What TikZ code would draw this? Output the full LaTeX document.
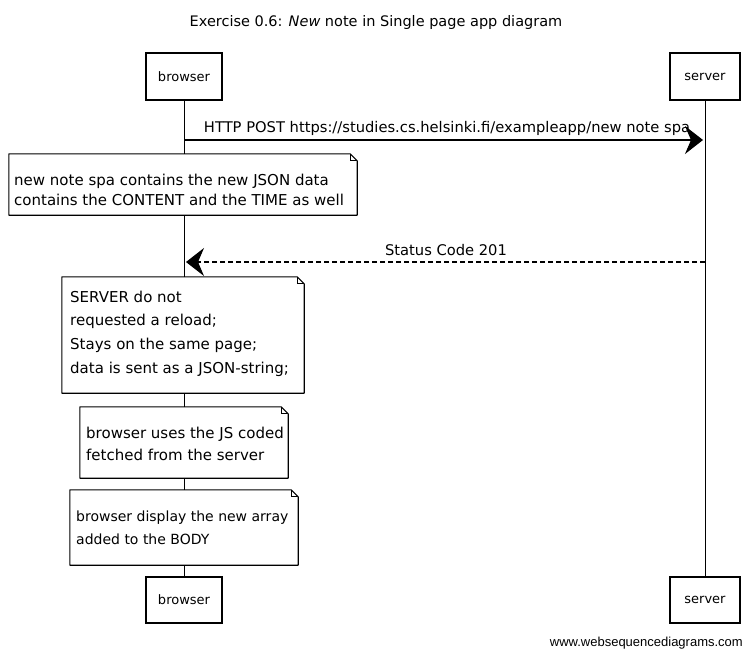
\documentclass[tikz,border=0pt]{standalone}
\usepackage{fontspec}
\setmainfont{DejaVu Sans}
\newfontfamily\wmfont{Liberation Sans}
\usetikzlibrary{arrows.meta}
\tikzset{
  x=1pt, y=-1pt,
  actor/.style={draw=black, line width=1.2pt, fill=white, minimum height=47pt, font=\fontsize{13}{15}\selectfont, inner sep=0pt},
  notebox/.style={fill=white, inner sep=0pt, anchor=center},
  notetext/.style={align=left, inner sep=0pt, anchor=west},
  noteline/.style={draw=black, line width=1.1pt, line join=round},
  life/.style={draw=black, line width=0.8pt},
  msg/.style={draw=black, line width=1.1pt, -{Stealth[length=18pt,width=28pt,inset=6pt]}},
  reply/.style={msg, dashed, dash pattern=on 5pt off 3pt},
  lbl/.style={font=\fontsize{14.7}{16}\selectfont, inner sep=0pt},
}
\newcommand{\notedraw}[1]{%
  \path[noteline] (#1.north west) -- ([xshift=-7pt]#1.north east) -- ([yshift=-7pt]#1.north east) -- (#1.south east) -- (#1.south west) -- cycle;
  \path[draw=black, line width=0.7pt] ([xshift=-7pt]#1.north east) -- ([xshift=-7pt,yshift=-7pt]#1.north east) -- ([yshift=-7pt]#1.north east);
}
\begin{document}
\begin{tikzpicture}
\useasboundingbox (0,0) rectangle (752,659);
\fill[white] (0,0) rectangle (752,659);

% title
\node[font=\fontsize{14.5}{16}\selectfont, inner sep=0pt] (title) at (376,22) {Exercise 0.6: \textit{New} note in Single page app diagram};

% participants
\node[actor, minimum width=76pt] (bt) at (184,76.5) {browser};
\node[actor, minimum width=70pt] (st) at (705,76.5) {server};
\node[actor, minimum width=76pt, minimum height=46pt] (bb) at (184,600) {browser};
\node[actor, minimum width=70pt, minimum height=46pt] (sb) at (705,600) {server};

% lifelines
\draw[life] (bt.south) -- (bb.north);
\draw[life] (st.south) -- (sb.north);

% message 1
\coordinate (m1a) at (184,140);
\coordinate (m1b) at (703,140);
\draw[msg] (m1a) -- (m1b);
\node[lbl] (m1l) at (447,128) {HTTP POST https://studies.cs.helsinki.fi/exampleapp/new note spa};

% note 1
\node[notebox, minimum width=348pt, minimum height=61pt] (n1) at (183,184.5) {};
\notedraw{n1}
\node[notetext, font=\fontsize{15}{20}\selectfont] (n1t) at (14,190) {new note spa contains the new JSON data\\contains the CONTENT and the TIME as well};

% message 2
\coordinate (m2a) at (705,262);
\coordinate (m2b) at (186,262);
\draw[reply] (m2a) -- (m2b);
\node[lbl] (m2l) at (446,250) {Status Code 201};

% note 2
\node[notebox, minimum width=242pt, minimum height=116pt] (n2) at (183,335) {};
\notedraw{n2}
\node[notetext, font=\fontsize{15}{23.6}\selectfont] (n2t) at (70,333.5) {SERVER do not\\requested a reload;\\Stays on the same page;\\data is sent as a JSON-string;};

% note 3
\node[notebox, minimum width=208pt, minimum height=71pt] (n3) at (184,442.5) {};
\notedraw{n3}
\node[notetext, font=\fontsize{15}{22}\selectfont] (n3t) at (86,444) {browser uses the JS coded\\fetched from the server};

% note 4
\node[notebox, minimum width=228pt, minimum height=75pt] (n4) at (184,527.5) {};
\notedraw{n4}
\node[notetext, font=\fontsize{14}{23}\selectfont] (n4t) at (76,527.5) {browser display the new array\\added to the BODY};

% watermark
\node[font=\wmfont\fontsize{13}{15}\selectfont, anchor=east, inner sep=0pt] (wm) at (743,643) {www.websequencediagrams.com};
\end{tikzpicture}
\end{document}
